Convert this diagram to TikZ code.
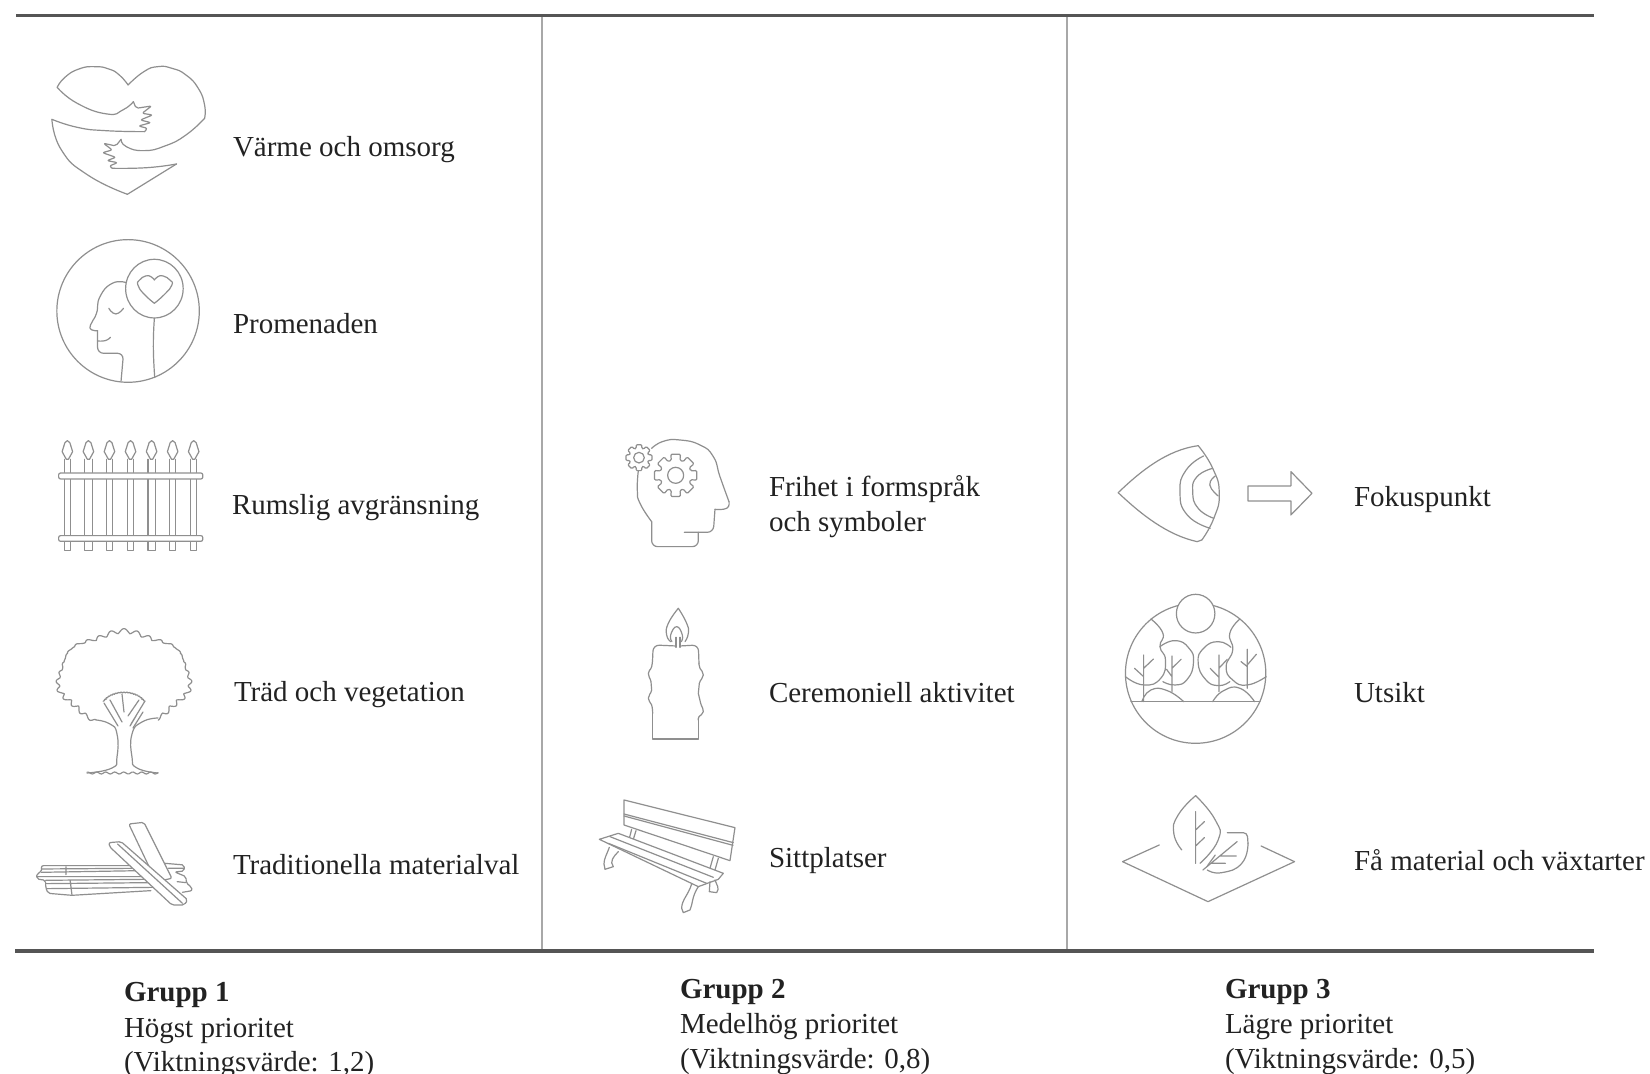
\documentclass[tikz,border=0pt]{standalone}
\usepackage{fontspec}
\setmainfont{Liberation Serif}
\definecolor{txtc}{HTML}{222222}
\definecolor{rulec}{HTML}{555555}
\definecolor{divc}{HTML}{A8A8A8}
\definecolor{iconc}{HTML}{8F8F8F}
\tikzset{
  lab/.style={anchor=base west,inner sep=0pt,outer sep=0pt,text=txtc,font=\fontsize{14.5}{17}\selectfont},
  labb/.style={lab,font=\fontsize{14.5}{17}\selectfont\bfseries},
  hrule/.style={draw=rulec,line width=1.7pt},
  vrule/.style={draw=divc,line width=1.2pt},
  ic/.style={draw=iconc,line width=0.6pt,line join=round,line cap=round},
  zA/.style={xscale=0.3509,yscale=0.3333},
  zB/.style={xscale=0.3333,yscale=0.3333},
  zC/.style={xscale=0.3636,yscale=0.3333},
}
\newcommand{\gearicon}[5]{% cx cy rout rin rhole
  \draw[ic,rounded corners=0.6pt] ({#1+#4*cos(-16)},{#2+#4*sin(-16)})
    foreach \a in {0,45,...,315} {
      -- ({#1+#3*cos(\a-13)},{#2+#3*sin(\a-13)})
      -- ({#1+#3*cos(\a+13)},{#2+#3*sin(\a+13)})
      -- ({#1+#4*cos(\a+16)},{#2+#4*sin(\a+16)})
      -- ({#1+#4*cos(\a+29)},{#2+#4*sin(\a+29)})
    } -- cycle;
  \draw[ic] (#1,#2) circle [radius=#5];
}
\newcommand{\sm}[1]{\draw[ic] plot[smooth,tension=.9] coordinates {#1};}
\begin{document}
\begin{tikzpicture}[x=0.5pt,y=-0.5pt]
\useasboundingbox (0,0) rectangle (1650,1074);
\fill[white] (0,0) rectangle (1650,1074);

% frame
\coordinate (tl) at (16,15.5); \coordinate (tr) at (1594,15.5);
\coordinate (bl) at (15,951); \coordinate (br) at (1594,951);
\coordinate (v1t) at (542,15.5); \coordinate (v1b) at (542,951);
\coordinate (v2t) at (1067,15.5); \coordinate (v2b) at (1067,951);
\draw[vrule] (v1t) -- (v1b);
\draw[vrule] (v2t) -- (v2b);
\draw[hrule] (tl) -- (tr);
\draw[hrule] (bl) -- (br);

% labels
\node[lab] (t1) at (233,157) {Värme och omsorg};
\node[lab] (t2) at (233,334) {Promenaden};
\node[lab] (t3) at (232,515) {Rumslig avgränsning};
\node[lab] (t4) at (234,702) {Träd och vegetation};
\node[lab] (t5) at (233,874) {Traditionella materialval};
\node[lab] (t6) at (769,497) {Frihet i formspråk};
\node[lab] (t6b) at (769,532) {och symboler};
\node[lab] (t7) at (769,703) {Ceremoniell aktivitet};
\node[lab] (t8) at (769,867) {Sittplatser};
\node[lab] (t9) at (1354,507) {Fokuspunkt};
\node[lab] (t10) at (1354,703) {Utsikt};
\node[lab] (t11) at (1354,870) {Få material och växtarter};
\node[labb] (g1) at (124,1001) {Grupp 1};
\node[lab] (g1a) at (124,1037) {Högst prioritet};
\node[lab] (g1b) at (124,1071) {(Viktningsvärde: 1,2)};
\node[labb] (g2) at (680,998) {Grupp 2};
\node[lab] (g2a) at (680,1033) {Medelhög prioritet};
\node[lab] (g2b) at (680,1068) {(Viktningsvärde: 0,8)};
\node[labb] (g3) at (1225,998) {Grupp 3};
\node[lab] (g3a) at (1225,1033) {Lägre prioritet};
\node[lab] (g3b) at (1225,1068) {(Viktningsvärde: 0,5)};

% heart hug
\begin{scope}[zA]
\sm{(148,358)(175,450)(250,525)(363,583)}
\draw[ic] (363,583) -- (503,492);
\sm{(503,492)(420,503)(320,505)}
\draw[ic,rounded corners=1pt] (320,505) -- (312,498) -- (335,488) -- (305,482) -- (330,472) -- (292,458) -- (320,450) -- (295,430) -- (330,438) -- (345,418);
\sm{(345,418)(360,440)(410,452)(470,438)(530,405)(583,355)}
\sm{(583,355)(583,315)(565,265)(530,225)(490,205)(450,200)(410,215)(365,255)}
\sm{(365,255)(340,225)(310,207)(270,200)(225,207)(185,232)(163,262)}
\sm{(163,262)(220,310)(305,342)(350,330)(380,305)}
\draw[ic,rounded corners=1pt] (380,305) -- (388,325) -- (432,318) -- (405,340) -- (435,345) -- (400,360) -- (430,368) -- (395,378) -- (420,385) -- (412,395);
\sm{(412,395)(300,392)(220,382)(148,358)}
% head in circle
\draw[ic] (365,933) ellipse [x radius=203,y radius=214];
\draw[ic] (440,866) ellipse [x radius=82,y radius=88];
\sm{(440,840)(430,830)(415,828)(398,840)(393,855)(410,882)(440,910)}
\sm{(440,840)(450,830)(465,828)(484,840)(490,855)(470,882)(440,910)}
\sm{(440,955)(437,1040)(441,1133)}
\sm{(360,848)(320,850)(285,890)(275,940)(258,975)(262,990)(278,992)}
\draw[ic,rounded corners=3pt] (278,992) -- (278,1060) -- (352,1060) -- (345,1143);
\sm{(310,925)(330,942)(352,925)}
\sm{(278,1023)(300,1022)(315,1012)}
\end{scope}

% fence
\begin{scope}[shift={(0,400)},zA]
\foreach \px/\w in {192/8,252/11,312/8,372/9,432/10,492/8,552/8}{
  \draw[ic] (\px-\w,178) -- (\px-\w,452) -- (\px+\w,452) -- (\px+\w,178);
  \draw[ic,fill=white] (\px,122) -- (\px+7,128) -- (\px+15,155) -- (\px+3,178) -- (\px-3,178) -- (\px-15,155) -- (\px-7,128) -- cycle;
}
\draw[ic,fill=white,rounded corners=1pt] (167,219) rectangle (578,237);
\draw[ic,fill=white,rounded corners=1pt] (167,407) rectangle (578,424);
\end{scope}

% tree (true pixels)
\draw[ic] plot[domain=115:420,samples=300,variable=\t]
  ({124+(64+2.4*abs(sin(17*\t))+1.8*sin(7*\t)+1.2*sin(31*\t))*cos(\t)},{678+(44+2.4*abs(sin(17*\t))+1.8*sin(7*\t)+1.2*sin(31*\t))*sin(\t)});
\draw[ic] plot[domain=205:335,samples=60,variable=\t]
  ({124+(22+1*abs(sin(25*\t)))*cos(\t)},{708+(15+1*abs(sin(25*\t)))*sin(\t)});
\sm{(96,720)(110,724)(117,734)(117,757)(112,768)(87,773)}
\sm{(158,718)(142,722)(132,734)(132,757)(137,768)(158,773)}
\draw[ic] plot[domain=87:158,samples=50,variable=\t] ({\t},{773+1*sin(40*\t)});
\draw[ic] (104,703) -- (118,726) (110,700) -- (122,722) (145,701) -- (131,724) (139,700) -- (128,716) (122,694) -- (124,712) (136,716) -- (130,726) (143,712) -- (133,728);

% lumber
\begin{scope}[shift={(0,700)},zA]
\draw[ic,rounded corners=1pt] (370,497) -- (118,497) -- (118,517) -- (105,520) -- (105,537) -- (130,541) -- (130,562) -- (137,580) -- (205,586) -- (430,572);
\draw[ic] (118,507) -- (385,505) (118,517) -- (400,512) (105,530) -- (410,530) (130,541) -- (425,538) (130,551) -- (430,548) (135,566) -- (445,562) (188,500) -- (188,524) (200,542) -- (205,584);
\draw[ic,rounded corners=1pt] (470,490) -- (525,495) -- (525,513) -- (498,516) -- (530,530) -- (531,550) -- (545,560) -- (548,572) -- (520,577);
\draw[ic] (480,505) -- (525,505) (505,545) -- (530,548);
\draw[ic,fill=white,rounded corners=1pt] (367,372) -- (410,367) -- (490,535) -- (445,545) -- cycle;
\draw[ic,fill=white,rounded corners=1pt] (310,428) -- (345,425) -- (535,600) -- (525,615) -- (490,615) -- (312,440) -- cycle;
\draw[ic] (335,432) -- (520,610);
\end{scope}

% head with gears
\begin{scope}[shift={(550,400)},zB]
\sm{(305,145)(340,124)(390,120)(450,135)(490,170)(510,230)(537,305)}
\sm{(537,305)(530,325)(495,328)}
\draw[ic,rounded corners=3pt] (495,328) -- (490,397) -- (403,397);
\draw[ic,rounded corners=3pt] (445,397) -- (445,440) -- (305,440) -- (305,365);
\sm{(305,365)(270,310)(262,270)(265,212)}
\gearicon{377}{226}{65}{47}{24}
\gearicon{267}{173}{40}{29}{16}
% candle
\sm{(385,625)(355,670)(350,705)(362,725)}
\sm{(385,625)(410,670)(415,700)(405,725)}
\sm{(366,725)(362,705)(380,680)(397,705)(394,725)}
\draw[ic] (378,712) -- (378,742) (390,712) -- (390,742);
\draw[ic,rounded corners=3pt] (378,738) -- (310,735) -- (308,770);
\draw[ic,rounded corners=3pt] (390,738) -- (445,735) -- (447,790);
\sm{(308,770)(305,800)(295,820)(303,845)(305,870)(295,895)(305,915)(308,940)}
\draw[ic] (308,940) -- (308,1017) -- (445,1017) -- (445,960);
\sm{(447,790)(450,805)(460,825)(448,850)(445,880)(452,910)(460,935)(447,950)(445,960)}
\end{scope}

% bench
\begin{scope}[shift={(550,740)},zB]
\draw[ic] (222,180) -- (555,263) -- (540,362) -- (222,255) -- cycle;
\draw[ic] (222,222) -- (550,308) (222,228) -- (549,316);
\draw[ic] (245,268) -- (238,295) (258,272) -- (250,298) (490,350) -- (480,385) (505,355) -- (495,390);
\draw[ic,fill=white] (148,298) -- (205,280) -- (520,400) -- (505,418) -- (445,440) -- cycle;
\draw[ic] (180,290) -- (490,412) (175,310) -- (470,430);
\draw[ic] (178,322) .. controls (170,345) and (162,355) .. (162,372) -- (165,388) -- (190,380) .. controls (178,365) and (190,350) .. (205,335);
\draw[ic] (425,432) .. controls (415,465) and (395,480) .. (395,505) -- (400,518) -- (420,510) .. controls (428,495) and (425,470) .. (445,440);
\draw[ic] (480,425) -- (478,455) -- (500,458) .. controls (510,445) and (500,435) .. (495,420);
\end{scope}

% eye and arrow
\begin{scope}[shift={(1080,420)},zC]
\draw[ic] (325,77) .. controls (240,90) and (170,150) .. (105,218) .. controls (170,285) and (240,345) .. (322,365);
\sm{(325,77)(365,145)(383,220)(368,295)(335,360)}
\draw[ic] (335,360) -- (322,365);
\sm{(340,108)(292,150)(275,215)(295,285)(358,325)}
\sm{(365,145)(322,170)(310,215)(325,265)(368,295)}
\sm{(372,168)(357,195)(380,228)}
\draw[ic] (462,198) -- (580,198) -- (580,155) -- (638,220) -- (580,285) -- (580,243) -- (462,243) -- cycle;
% view
\draw[ic] (318,760) ellipse [x radius=193,y radius=210];
\draw[ic,fill=white] (318,581) ellipse [x radius=53,y radius=58];
\draw[ic] (140,845) -- (495,845);
\sm{(170,845)(195,810)(240,812)(285,845)}
\sm{(365,845)(395,812)(440,805)(480,845)}
\sm{(195,597)(228,640)(220,680)(235,720)(222,775)(175,795)(125,770)}
\sm{(440,597)(412,640)(420,690)(402,740)(420,780)(460,795)(512,770)}
\sm{(220,680)(262,662)(300,685)(312,728)(295,778)(262,795)(228,785)}
\sm{(415,682)(380,665)(340,685)(325,728)(345,778)(380,797)(412,785)}
\draw[ic] (175,705) -- (175,845) (175,770) -- (150,745) (175,745) -- (202,717);
\draw[ic] (253,708) -- (253,815) (253,745) -- (278,718) (253,770) -- (238,748);
\draw[ic] (382,705) -- (382,815) (382,772) -- (358,745) (382,745) -- (405,718);
\draw[ic] (460,688) -- (460,805) (460,735) -- (485,703) (460,740) -- (443,725);
\end{scope}

% leaves
\begin{scope}[shift={(1080,760)},zC]
\draw[ic] (218,255) -- (117,305) -- (352,425) -- (590,305) -- (498,258);
\sm{(318,107)(270,165)(258,220)(280,270)}
\sm{(318,107)(372,180)(380,240)(330,310)}
\draw[ic] (318,155) -- (318,310) (318,210) -- (342,185) (318,258) -- (342,233);
\draw[ic,rounded corners=2pt] (405,218) -- (460,218) -- (462,250);
\sm{(462,250)(445,310)(390,338)(350,330)}
\draw[ic] (338,330) -- (432,245) (385,288) -- (430,288) (362,310) -- (400,310);
\draw[ic] (372,285) -- (350,318);
\end{scope}
\end{tikzpicture}
\end{document}
